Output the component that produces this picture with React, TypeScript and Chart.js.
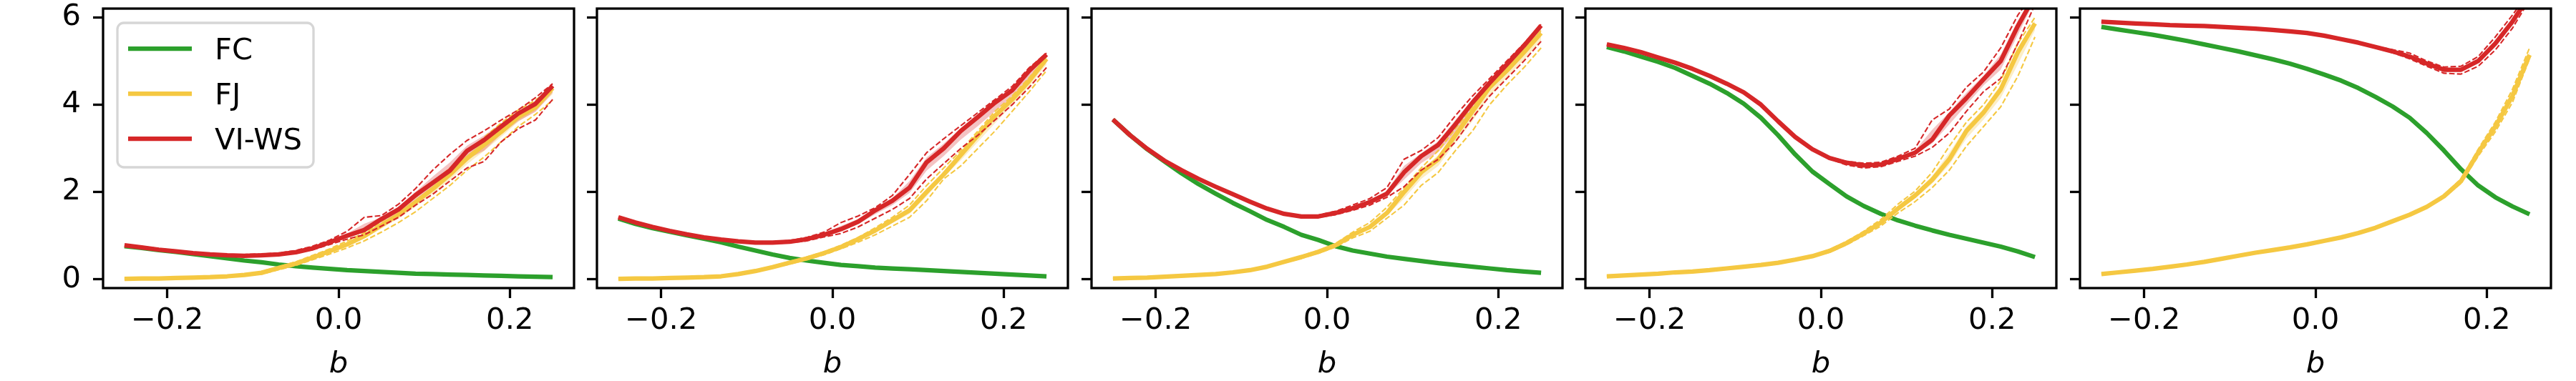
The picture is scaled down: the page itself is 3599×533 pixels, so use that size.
import React, { useEffect, useRef } from "react";
import Chart from "chart.js/auto";

// b grid shared by every panel
const bValues = [
  -0.25, -0.23, -0.21, -0.19, -0.17, -0.15, -0.13, -0.11, -0.09, -0.07, -0.05, -0.03, -0.01,
  0.01, 0.03, 0.05, 0.07, 0.09, 0.11, 0.13, 0.15, 0.17, 0.19, 0.21, 0.23, 0.25,
];

const xTickValues = [-0.2, 0, 0.2];
const xTickLabels = ["\u22120.2", "0.0", "0.2"];
const yTickValues = [0, 2, 4, 6];
const yTickLabels = ["0", "2", "4", "6"];

const seriesNames = ["FC", "FJ", "VI-WS"];
const seriesColors = ["#2ca02c", "#f5c842", "#d62728"];

// one row per panel (left to right)
const fcValues = [
  [0.76, 0.72, 0.67, 0.63, 0.58, 0.53, 0.48, 0.43, 0.39, 0.34, 0.3, 0.27, 0.24, 0.21, 0.19, 0.17, 0.15, 0.13, 0.12, 0.11, 0.1, 0.09, 0.08, 0.07, 0.06, 0.05],
  [1.39, 1.27, 1.17, 1.09, 1.01, 0.93, 0.85, 0.75, 0.66, 0.57, 0.49, 0.43, 0.38, 0.33, 0.3, 0.27, 0.25, 0.23, 0.21, 0.19, 0.17, 0.15, 0.13, 0.11, 0.09, 0.07],
  [3.66, 3.3, 2.98, 2.7, 2.43, 2.18, 1.96, 1.75, 1.56, 1.36, 1.2, 1.02, 0.9, 0.76, 0.66, 0.59, 0.52, 0.47, 0.42, 0.37, 0.33, 0.29, 0.25, 0.21, 0.18, 0.15],
  [5.32, 5.22, 5.1, 4.98, 4.84, 4.66, 4.48, 4.27, 4.02, 3.7, 3.3, 2.86, 2.47, 2.18, 1.9, 1.68, 1.5, 1.35, 1.23, 1.12, 1.02, 0.93, 0.84, 0.75, 0.64, 0.51],
  [5.78, 5.72, 5.66, 5.6, 5.53, 5.46, 5.38, 5.3, 5.22, 5.13, 5.04, 4.94, 4.82, 4.69, 4.55, 4.38, 4.18, 3.96, 3.7, 3.35, 2.95, 2.52, 2.15, 1.88, 1.67, 1.49],
];

const fjValues = [
  [0.01, 0.02, 0.02, 0.03, 0.04, 0.05, 0.07, 0.1, 0.15, 0.26, 0.36, 0.5, 0.65, 0.8, 0.99, 1.24, 1.48, 1.77, 2.07, 2.4, 2.77, 3.08, 3.38, 3.72, 3.94, 4.38],
  [0.01, 0.02, 0.02, 0.03, 0.04, 0.05, 0.07, 0.12, 0.19, 0.28, 0.38, 0.48, 0.6, 0.74, 0.92, 1.12, 1.35, 1.58, 2.0, 2.4, 2.85, 3.3, 3.75, 4.12, 4.55, 5.05],
  [0.02, 0.03, 0.04, 0.06, 0.08, 0.1, 0.12, 0.16, 0.21, 0.29, 0.4, 0.51, 0.63, 0.78, 1.02, 1.2, 1.52, 2.0, 2.45, 2.75, 3.3, 3.85, 4.4, 4.78, 5.2, 5.64],
  [0.07, 0.09, 0.11, 0.13, 0.16, 0.18, 0.21, 0.25, 0.29, 0.33, 0.38, 0.45, 0.53, 0.65, 0.83, 1.05, 1.3, 1.62, 1.92, 2.28, 2.75, 3.4, 3.82, 4.35, 5.2, 5.86],
  [0.12, 0.16, 0.2, 0.24, 0.29, 0.34, 0.4, 0.47, 0.54, 0.61, 0.67, 0.73, 0.8, 0.88, 0.96, 1.06, 1.18, 1.33, 1.48, 1.66, 1.9, 2.25, 2.9, 3.5, 4.2, 5.14],
];
const fjUpper = [
  [0.02, 0.03, 0.03, 0.04, 0.05, 0.06, 0.08, 0.12, 0.18, 0.29, 0.4, 0.55, 0.7, 0.88, 1.06, 1.32, 1.58, 1.88, 2.2, 2.55, 2.92, 3.25, 3.58, 3.88, 4.1, 4.42],
  [0.02, 0.03, 0.03, 0.04, 0.05, 0.06, 0.08, 0.14, 0.21, 0.3, 0.41, 0.51, 0.63, 0.78, 0.96, 1.18, 1.42, 1.7, 2.15, 2.55, 2.95, 3.4, 3.85, 4.2, 4.62, 5.1],
  [0.03, 0.04, 0.05, 0.07, 0.09, 0.11, 0.13, 0.17, 0.23, 0.31, 0.42, 0.54, 0.66, 0.82, 1.08, 1.3, 1.65, 2.1, 2.55, 2.95, 3.45, 3.95, 4.5, 4.85, 5.25, 5.7],
  [0.08, 0.1, 0.12, 0.14, 0.17, 0.19, 0.22, 0.26, 0.3, 0.34, 0.39, 0.46, 0.55, 0.68, 0.87, 1.1, 1.37, 1.72, 2.02, 2.45, 3.05, 3.6, 4.0, 4.55, 5.4, 6.0],
  [0.13, 0.17, 0.21, 0.25, 0.3, 0.35, 0.41, 0.48, 0.55, 0.62, 0.68, 0.74, 0.81, 0.89, 0.97, 1.07, 1.19, 1.34, 1.5, 1.68, 1.93, 2.3, 2.98, 3.6, 4.35, 5.3],
];
const fjLower = [
  [0.0, 0.01, 0.01, 0.02, 0.03, 0.04, 0.06, 0.08, 0.12, 0.22, 0.32, 0.45, 0.58, 0.72, 0.88, 1.08, 1.3, 1.55, 1.85, 2.15, 2.5, 2.8, 3.15, 3.5, 3.78, 4.1],
  [0.0, 0.01, 0.01, 0.02, 0.03, 0.04, 0.06, 0.1, 0.17, 0.26, 0.35, 0.45, 0.56, 0.7, 0.85, 1.02, 1.22, 1.42, 1.8, 2.3, 2.6, 3.0, 3.4, 3.85, 4.3, 4.78],
  [0.01, 0.02, 0.03, 0.05, 0.07, 0.09, 0.11, 0.15, 0.19, 0.27, 0.38, 0.48, 0.6, 0.74, 0.95, 1.1, 1.4, 1.7, 2.15, 2.45, 2.95, 3.4, 4.0, 4.45, 4.85, 5.3],
  [0.06, 0.08, 0.1, 0.12, 0.15, 0.17, 0.2, 0.24, 0.28, 0.32, 0.37, 0.44, 0.51, 0.62, 0.79, 1.0, 1.22, 1.52, 1.78, 2.1, 2.5, 3.05, 3.5, 3.95, 4.65, 5.55],
  [0.11, 0.15, 0.19, 0.23, 0.28, 0.33, 0.39, 0.46, 0.53, 0.6, 0.66, 0.72, 0.79, 0.87, 0.95, 1.05, 1.17, 1.32, 1.46, 1.64, 1.87, 2.2, 2.82, 3.38, 4.05, 5.05],
];

const viValues = [
  [0.78, 0.73, 0.68, 0.64, 0.6, 0.57, 0.55, 0.54, 0.55, 0.57, 0.62, 0.71, 0.85, 1.0, 1.13, 1.38, 1.6, 1.93, 2.21, 2.49, 2.94, 3.19, 3.5, 3.8, 4.02, 4.43],
  [1.42, 1.3, 1.2, 1.11, 1.03, 0.96, 0.91, 0.87, 0.84, 0.84, 0.86, 0.92, 1.02, 1.15, 1.32, 1.58, 1.8, 2.1, 2.68, 3.0, 3.4, 3.72, 4.05, 4.33, 4.78, 5.15],
  [3.66, 3.3, 2.99, 2.72, 2.5, 2.3, 2.12, 1.95, 1.78, 1.62, 1.5, 1.44, 1.44, 1.52, 1.63, 1.77, 1.96, 2.45, 2.82, 3.08, 3.55, 4.05, 4.5, 4.92, 5.35, 5.81],
  [5.38, 5.3, 5.2, 5.08, 4.96, 4.82, 4.66, 4.48, 4.28, 4.0, 3.62, 3.26, 2.98, 2.78, 2.67, 2.61, 2.63, 2.76, 2.9, 3.2, 3.75, 4.15, 4.58, 5.0, 5.8, 6.5],
  [5.9, 5.88, 5.86, 5.84, 5.82, 5.81, 5.8, 5.78, 5.76, 5.74, 5.71, 5.68, 5.64, 5.58, 5.5, 5.42, 5.32, 5.22, 5.1, 4.94, 4.8, 4.8, 5.0, 5.4, 5.9, 6.5],
];
const viUpper = [
  [0.79, 0.74, 0.69, 0.65, 0.61, 0.58, 0.57, 0.57, 0.58, 0.6, 0.66, 0.76, 0.9, 1.1, 1.42, 1.46, 1.72, 2.08, 2.5, 2.86, 3.18, 3.4, 3.65, 3.88, 4.16, 4.48],
  [1.43, 1.31, 1.21, 1.12, 1.04, 0.97, 0.92, 0.88, 0.85, 0.86, 0.89, 0.96, 1.08, 1.3, 1.45, 1.64, 1.92, 2.4, 2.9, 3.22, 3.52, 3.82, 4.12, 4.42, 4.85, 5.18],
  [3.67, 3.31, 3.0, 2.73, 2.51, 2.31, 2.13, 1.96, 1.79, 1.63, 1.52, 1.46, 1.47, 1.56, 1.7, 1.85, 2.1, 2.75, 2.95, 3.25, 3.75, 4.2, 4.6, 5.0, 5.4, 5.84],
  [5.39, 5.31, 5.21, 5.09, 4.97, 4.83, 4.67, 4.49, 4.29, 4.01, 3.63, 3.27, 2.99, 2.8, 2.7, 2.66, 2.68, 2.82, 3.0, 3.65, 3.9, 4.4, 4.75, 5.3, 6.05, 6.6],
  [5.91, 5.89, 5.87, 5.85, 5.83, 5.82, 5.81, 5.79, 5.77, 5.75, 5.72, 5.69, 5.65, 5.59, 5.51, 5.43, 5.34, 5.26, 5.18, 5.0, 4.86, 4.88, 5.1, 5.55, 6.05, 6.6],
];
const viLower = [
  [0.77, 0.72, 0.67, 0.63, 0.59, 0.56, 0.54, 0.53, 0.54, 0.56, 0.6, 0.68, 0.8, 0.92, 1.02, 1.22, 1.42, 1.7, 1.95, 2.25, 2.55, 2.7, 3.15, 3.45, 3.65, 4.12],
  [1.41, 1.29, 1.19, 1.1, 1.02, 0.95, 0.9, 0.86, 0.83, 0.82, 0.84, 0.88, 0.97, 1.05, 1.2, 1.4, 1.6, 1.85, 2.3, 2.65, 3.0, 3.3, 3.65, 4.0, 4.4, 4.85],
  [3.65, 3.29, 2.98, 2.71, 2.49, 2.29, 2.11, 1.94, 1.77, 1.61, 1.48, 1.42, 1.42, 1.48, 1.58, 1.7, 1.88, 2.12, 2.5, 2.75, 3.15, 3.7, 4.2, 4.6, 5.0, 5.45],
  [5.37, 5.29, 5.19, 5.07, 4.95, 4.81, 4.65, 4.47, 4.27, 3.99, 3.61, 3.25, 2.97, 2.76, 2.62, 2.55, 2.58, 2.7, 2.82, 3.02, 3.35, 3.85, 4.3, 4.6, 5.4, 6.3],
  [5.89, 5.87, 5.85, 5.83, 5.81, 5.8, 5.79, 5.77, 5.75, 5.73, 5.7, 5.67, 5.63, 5.57, 5.49, 5.41, 5.3, 5.19, 5.05, 4.88, 4.72, 4.7, 4.88, 5.25, 5.75, 6.4],
];

const FONT_FAMILY = "'DejaVu Sans', sans-serif";
const FONT_SIZE = 41.7;
const panelLefts = [0, 690, 1381, 2071, 2762];
const CANVAS_W = 814;
const CANVAS_H = 533;

const toPoints = (vals: number[]) => vals.map((y, i) => ({ x: bValues[i], y }));
// shaded band sits half way between the mean and the dashed extremes
const halfway = (mean: number[], edge: number[]) => mean.map((v, i) => (v + edge[i]) / 2);

const framePlugin = {
  id: "frame",
  afterDatasetsDraw(chart: any) {
    const { ctx, chartArea } = chart;
    const { left, top, right, bottom } = chartArea;
    ctx.save();
    ctx.strokeStyle = "#000";
    ctx.lineWidth = 3.3;
    ctx.strokeRect(left, top, right - left, bottom - top);
    ctx.restore();
  },
};

const boxLegendPlugin = {
  id: "boxLegend",
  afterDraw(chart: any) {
    const { ctx, chartArea } = chart;
    const x = chartArea.left + 20;
    const y = chartArea.top + 20;
    const w = 274;
    const h = 202;
    const r = 9;
    ctx.save();
    ctx.beginPath();
    ctx.moveTo(x + r, y);
    ctx.lineTo(x + w - r, y);
    ctx.arcTo(x + w, y, x + w, y + r, r);
    ctx.lineTo(x + w, y + h - r);
    ctx.arcTo(x + w, y + h, x + w - r, y + h, r);
    ctx.lineTo(x + r, y + h);
    ctx.arcTo(x, y + h, x, y + h - r, r);
    ctx.lineTo(x, y + r);
    ctx.arcTo(x, y, x + r, y, r);
    ctx.closePath();
    ctx.fillStyle = "rgba(255,255,255,0.8)";
    ctx.fill();
    ctx.strokeStyle = "#d6d6d6";
    ctx.lineWidth = 3.3;
    ctx.stroke();

    ctx.font = `${FONT_SIZE}px ${FONT_FAMILY}`;
    ctx.textBaseline = "alphabetic";
    ctx.textAlign = "left";
    seriesNames.forEach((name, i) => {
      const rowY = y + 36 + i * 63;
      ctx.strokeStyle = seriesColors[i];
      ctx.lineWidth = 6.25;
      ctx.beginPath();
      ctx.moveTo(x + 15, rowY);
      ctx.lineTo(x + 104, rowY);
      ctx.stroke();
      ctx.fillStyle = "#000";
      ctx.fillText(name, x + 136, rowY + 15);
    });
    ctx.restore();
  },
};

const Panel: React.FC<{ index: number }> = ({ index }) => {
  const canvasRef = useRef<HTMLCanvasElement | null>(null);

  useEffect(() => {
    if (!canvasRef.current) return;
    const [green, yellow, red] = seriesColors;
    const solid = (vals: number[], color: string) => ({
      data: toPoints(vals),
      borderColor: color,
      borderWidth: 6.25,
      fill: false,
    });
    const dashed = (vals: number[], color: string) => ({
      data: toPoints(vals),
      borderColor: color,
      borderWidth: 2.1,
      borderDash: [7.7, 3.3],
      fill: false,
    });
    const bandEdge = (vals: number[], fillColor: string, filled: boolean) => ({
      data: toPoints(vals),
      borderColor: "rgba(0,0,0,0)",
      borderWidth: 0,
      backgroundColor: fillColor,
      fill: filled ? "+1" : false,
    });

    const vi = viValues[index];
    const fj = fjValues[index];

    // listed top-most first
    const datasets: any[] = [
      dashed(viUpper[index], red),
      dashed(viLower[index], red),
      solid(vi, red),
      dashed(fjUpper[index], yellow),
      dashed(fjLower[index], yellow),
      solid(fj, yellow),
      solid(fcValues[index], green),
      bandEdge(halfway(vi, viUpper[index]), "rgba(214,39,40,0.28)", true),
      bandEdge(halfway(vi, viLower[index]), "rgba(214,39,40,0.28)", false),
      bandEdge(halfway(fj, fjUpper[index]), "rgba(245,200,66,0.3)", true),
      bandEdge(halfway(fj, fjLower[index]), "rgba(245,200,66,0.3)", false),
    ];

    const gridOpts = {
      display: true,
      drawOnChartArea: false,
      drawTicks: true,
      tickLength: 14,
      tickWidth: 3.3,
      tickColor: "#000",
    };
    const tickFont = { family: FONT_FAMILY, size: FONT_SIZE };

    const chart = new Chart(canvasRef.current, {
      type: "line",
      data: { datasets },
      options: {
        animation: false,
        responsive: false,
        events: [],
        layout: { padding: { top: 12, right: 12, left: 0, bottom: 0 } },
        elements: {
          point: { radius: 0 },
          line: { tension: 0, borderJoinStyle: "round" },
        },
        plugins: {
          legend: { display: false },
          tooltip: { enabled: false },
        },
        scales: {
          x: {
            type: "linear",
            min: -0.275,
            max: 0.275,
            afterBuildTicks: (axis: any) => {
              axis.ticks = xTickValues.map((v) => ({ value: v }));
            },
            afterFit: (axis: any) => {
              axis.height = 130;
              axis.paddingLeft = 0;
              axis.paddingRight = 0;
            },
            grid: gridOpts,
            border: { display: false },
            ticks: {
              color: "#000",
              font: tickFont,
              padding: 7,
              maxRotation: 0,
              autoSkip: false,
              callback: (_v: any, i: number) => xTickLabels[i],
            },
            title: {
              display: true,
              text: "b",
              color: "#000",
              font: { family: FONT_FAMILY, size: FONT_SIZE, style: "italic", lineHeight: 1 },
              padding: { top: 0, bottom: 2 },
            },
          },
          y: {
            type: "linear",
            min: -0.2,
            max: 6.2,
            afterBuildTicks: (axis: any) => {
              axis.ticks = yTickValues.map((v) => ({ value: v }));
            },
            afterFit: (axis: any) => {
              axis.width = 144;
              axis.paddingTop = 0;
              axis.paddingBottom = 0;
            },
            grid: gridOpts,
            border: { display: false },
            ticks: {
              color: index === 0 ? "#000" : "rgba(0,0,0,0)",
              font: tickFont,
              padding: 17,
              autoSkip: false,
              callback: (_v: any, i: number) => yTickLabels[i],
            },
          },
        },
      } as any,
      plugins: index === 0 ? [framePlugin, boxLegendPlugin] : [framePlugin],
    });

    return () => {
      chart.destroy();
    };
  }, [index]);

  return (
    <canvas
      ref={canvasRef}
      width={CANVAS_W}
      height={CANVAS_H}
      style={{ position: "absolute", left: panelLefts[index], top: 0, width: CANVAS_W, height: CANVAS_H }}
    />
  );
};

const App: React.FC = () => {
  useEffect(() => {
    document.body.style.margin = "0";
  }, []);
  return (
    <div style={{ position: "absolute", left: 0, top: 0, width: 3599, height: 533, background: "#fff" }}>
      {panelLefts.map((_, i) => (
        <Panel key={i} index={i} />
      ))}
    </div>
  );
};

export default App;
